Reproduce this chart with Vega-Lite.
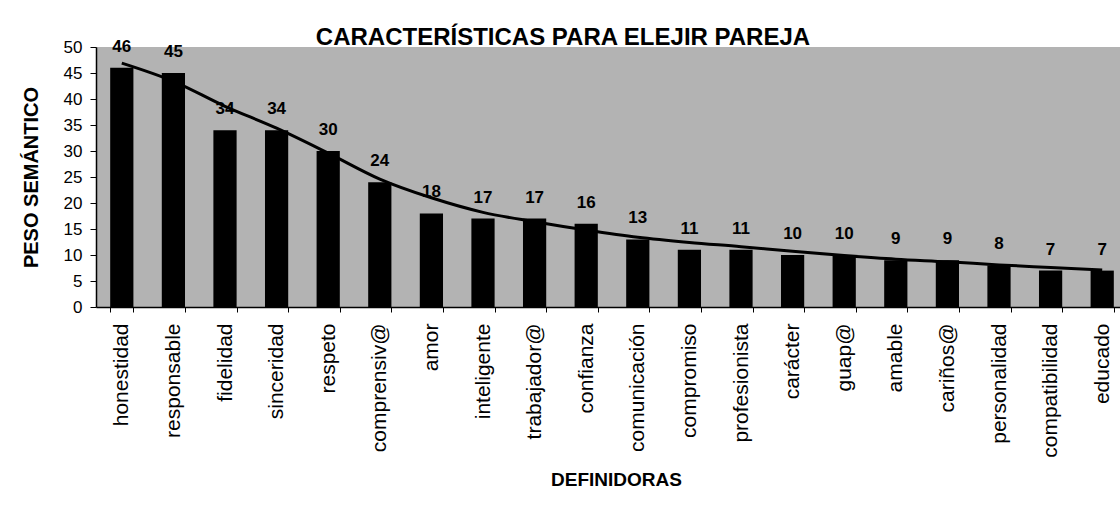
{
  "$schema": "https://vega.github.io/schema/vega-lite/v6.json",
  "autosize": {"type": "none"},
  "padding": {"left": 96, "top": 47, "right": 0, "bottom": 204},
  "width": 1032,
  "height": 260,
  "background": "white",
  "config": {
    "view": {"fill": "#b3b3b3", "stroke": null},
    "font": "Liberation Sans"
  },
  "title": {
    "text": "CARACTERÍSTICAS PARA ELEJIR PAREJA",
    "font": "Liberation Sans",
    "fontSize": 24,
    "fontWeight": "bold",
    "color": "black",
    "anchor": "middle",
    "dx": -49,
    "offset": -12
  },
  "data": {
    "values": [
      {"definidora": "honestidad", "peso": 46, "tendencia": 46.9},
      {"definidora": "responsable", "peso": 45, "tendencia": 43.4},
      {"definidora": "fidelidad", "peso": 34, "tendencia": 38.6},
      {"definidora": "sinceridad", "peso": 34, "tendencia": 34.4},
      {"definidora": "respeto", "peso": 30, "tendencia": 29.6},
      {"definidora": "comprensiv@", "peso": 24, "tendencia": 24.6},
      {"definidora": "amor", "peso": 18, "tendencia": 21.0},
      {"definidora": "inteligente", "peso": 17, "tendencia": 18.2},
      {"definidora": "trabajador@", "peso": 17, "tendencia": 16.4},
      {"definidora": "confianza", "peso": 16, "tendencia": 14.8},
      {"definidora": "comunicación", "peso": 13, "tendencia": 13.4},
      {"definidora": "compromiso", "peso": 11, "tendencia": 12.4},
      {"definidora": "profesionista", "peso": 11, "tendencia": 11.6},
      {"definidora": "carácter", "peso": 10, "tendencia": 10.7},
      {"definidora": "guap@", "peso": 10, "tendencia": 9.9},
      {"definidora": "amable", "peso": 9, "tendencia": 9.2},
      {"definidora": "cariños@", "peso": 9, "tendencia": 8.7},
      {"definidora": "personalidad", "peso": 8, "tendencia": 8.1},
      {"definidora": "compatibilidad", "peso": 7, "tendencia": 7.6},
      {"definidora": "educado", "peso": 7, "tendencia": 7.1}
    ]
  },
  "encoding": {
    "x": {
      "field": "definidora",
      "type": "nominal",
      "sort": null,
      "scale": {"paddingInner": 0.55, "paddingOuter": 0.275},
      "axis": {
        "title": "DEFINIDORAS",
        "titleFont": "Liberation Sans",
        "titleFontSize": 19,
        "titleFontWeight": "bold",
        "titleColor": "black",
        "titlePadding": 13,
        "titleX": 520,
        "labelAngle": -90,
        "labelFont": "Liberation Sans",
        "labelFontSize": 21,
        "labelColor": "black",
        "labelPadding": 11,
        "tickBand": "extent",
        "tickSize": 5,
        "tickColor": "black",
        "domainColor": "black",
        "domainWidth": 1.5,
        "labelOverlap": false
      }
    },
    "y": {
      "field": "peso",
      "type": "quantitative",
      "scale": {"domain": [0, 50], "nice": false, "zero": true},
      "axis": {
        "title": "PESO SEMÁNTICO",
        "titleFont": "Liberation Sans",
        "titleFontSize": 20,
        "titleFontWeight": "bold",
        "titleColor": "black",
        "titlePadding": 22,
        "values": [0, 5, 10, 15, 20, 25, 30, 35, 40, 45, 50],
        "labelOverlap": false,
        "labelFont": "Liberation Sans",
        "labelFontSize": 17,
        "labelColor": "black",
        "labelPadding": 8,
        "tickSize": 6,
        "tickColor": "black",
        "domainColor": "black",
        "domainWidth": 1.5,
        "grid": false
      }
    }
  },
  "layer": [
    {
      "mark": {"type": "bar", "color": "black"}
    },
    {
      "mark": {"type": "text", "fontSize": 17, "fontWeight": "bold", "font": "Liberation Sans", "color": "black", "baseline": "bottom", "dy": -12},
      "encoding": {
        "text": {"field": "peso", "type": "quantitative"}
      }
    },
    {
      "mark": {"type": "line", "color": "black", "strokeWidth": 3, "interpolate": "monotone"},
      "encoding": {
        "y": {"field": "tendencia", "type": "quantitative"}
      }
    }
  ]
}
